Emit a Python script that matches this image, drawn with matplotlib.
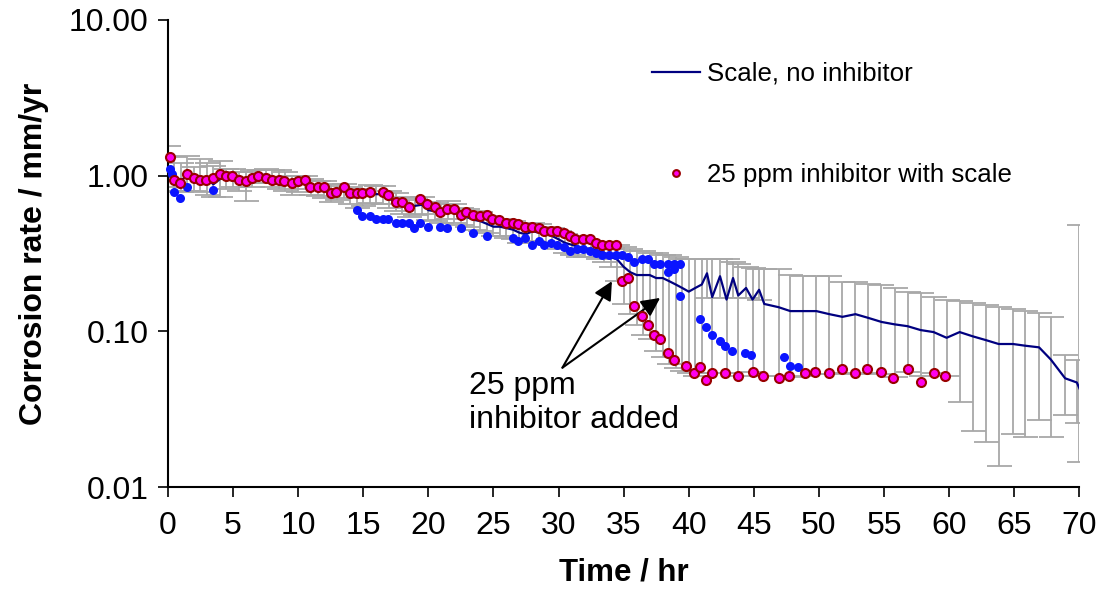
import numpy as np
import matplotlib
matplotlib.use("Agg")
import matplotlib.pyplot as plt
from matplotlib.ticker import FixedLocator, NullLocator

plt.rcParams['font.family'] = ['Liberation Sans', 'DejaVu Sans']

# scale, no inhibitor (line + error bars: lower / upper ends of each bar)
t_line = [0, 0.5, 1.0, 1.5, 2.0, 2.5, 3.0, 3.5, 4.0, 4.5, 5.0, 5.5, 6.0, 6.5, 7.0, 7.5, 8.0, 8.5, 9.0, 9.5,
          10.0, 10.5, 11.0, 11.5, 12.0, 12.5, 13.0, 13.5, 14.0, 14.5,
          15.0, 15.5, 16.0, 16.5, 17.0, 17.5, 18.0, 18.5, 19.0, 19.5, 20.0, 20.5, 21.0, 21.5, 22.0, 22.5,
          23.0, 23.5, 24.0, 24.5, 25.0, 25.5, 26.0, 26.5, 27.0, 27.5, 28.0, 28.5, 29.0, 29.5, 30.0, 30.5,
          31.0, 31.5, 32.0, 32.5, 33.0, 33.5, 34.0,
          34.5, 35.0, 35.5, 36.0, 36.5, 37.0, 37.5, 38.0, 38.5, 39.0, 39.5, 40.0, 40.5, 41.0,
          41.4, 41.8, 42.4, 42.9, 43.4, 43.8, 44.4, 44.9, 45.4, 45.8,
          46.9, 47.8, 48.8, 49.8, 50.8, 51.8, 52.8, 53.8, 54.8, 55.8, 56.8, 57.8, 58.8, 59.8, 60.8,
          61.8, 62.8, 63.8, 64.9, 65.8, 66.9, 67.8, 68.9, 69.8, 70.0]
v_line = [1.15, 1.0, 0.93, 1.0, 0.97, 0.95, 0.95, 0.88, 0.95, 0.97, 0.97, 0.95, 0.92, 0.95, 0.99, 1.02, 0.95, 0.93, 0.90, 0.88,
          0.90, 0.93, 0.85, 0.84, 0.83, 0.78, 0.78, 0.80, 0.76, 0.73,
          0.73, 0.77, 0.76, 0.76, 0.71, 0.68, 0.65, 0.62, 0.64, 0.65, 0.60, 0.59, 0.58, 0.61, 0.58, 0.55,
          0.54, 0.52, 0.51, 0.49, 0.47, 0.47, 0.46, 0.45, 0.43, 0.42, 0.44, 0.43, 0.42, 0.41, 0.39, 0.37,
          0.36, 0.35, 0.34, 0.34, 0.33, 0.32, 0.30,
          0.29, 0.26, 0.24, 0.23, 0.23, 0.23, 0.22, 0.22, 0.21, 0.20, 0.19, 0.18, 0.19, 0.20,
          0.236, 0.166, 0.226, 0.16, 0.22, 0.17, 0.19, 0.16, 0.185, 0.15,
          0.143, 0.135, 0.135, 0.135, 0.129, 0.124, 0.129, 0.122, 0.115, 0.111, 0.108, 0.102, 0.099, 0.091, 0.099,
          0.093, 0.088, 0.083, 0.083, 0.081, 0.079, 0.066, 0.050, 0.047, 0.043]
hi_line = [1.55, 1.32, 1.2, 1.34, 1.14, 1.27, 1.2, 1.15, 1.25, 1.1, 1.1, 1.05, 1.05, 1.08, 1.09, 1.1, 1.09, 1.08, 1.05, 1.0,
           1.0, 1.0, 0.95, 0.92, 0.92, 0.88, 0.86, 0.88, 0.84, 0.8,
           0.82, 0.87, 0.86, 0.86, 0.80, 0.77, 0.73, 0.70, 0.72, 0.73, 0.68, 0.67, 0.66, 0.69, 0.66, 0.62,
           0.61, 0.59, 0.58, 0.55, 0.53, 0.53, 0.52, 0.51, 0.49, 0.47, 0.50, 0.49, 0.47, 0.46, 0.44, 0.42,
           0.41, 0.40, 0.38, 0.38, 0.37, 0.36, 0.34,
           0.36, 0.35, 0.34, 0.33, 0.33, 0.32, 0.32, 0.31, 0.31, 0.30, 0.29, 0.29, 0.29, 0.29,
           0.29, 0.29, 0.29, 0.29, 0.28, 0.27, 0.26, 0.255, 0.25, 0.25,
           0.25, 0.23, 0.226, 0.226, 0.226, 0.207, 0.207, 0.20, 0.198, 0.19, 0.18, 0.176, 0.166, 0.16, 0.157,
           0.152, 0.148, 0.143, 0.14, 0.135, 0.131, 0.124, 0.071, 0.066, 0.485]
lo_line = [0.85, 0.8, 0.78, 0.8, 0.8, 0.78, 0.75, 0.73, 0.73, 0.82, 0.85, 0.8, 0.69, 0.85, 0.9, 0.9, 0.85, 0.82, 0.8, 0.75,
           0.78, 0.82, 0.75, 0.74, 0.72, 0.68, 0.7, 0.72, 0.66, 0.62,
           0.64, 0.67, 0.66, 0.66, 0.62, 0.59, 0.57, 0.54, 0.56, 0.57, 0.52, 0.51, 0.50, 0.53, 0.50, 0.48,
           0.47, 0.45, 0.44, 0.43, 0.41, 0.41, 0.40, 0.39, 0.37, 0.37, 0.38, 0.37, 0.37, 0.36, 0.34, 0.32,
           0.31, 0.30, 0.30, 0.30, 0.29, 0.28, 0.26,
           0.21, 0.15, 0.13, 0.11, 0.095, 0.09, 0.075, 0.068, 0.062, 0.058, 0.056, 0.054, 0.052, 0.054,
           0.165, 0.054, 0.165, 0.054, 0.165, 0.052, 0.165, 0.055, 0.16, 0.052,
           0.052, 0.051, 0.052, 0.053, 0.053, 0.054, 0.053, 0.054, 0.053, 0.051, 0.055, 0.052, 0.054, 0.052, 0.035,
           0.023, 0.0195, 0.0137, 0.022, 0.021, 0.027, 0.021, 0.029, 0.026, 0.0146]

# 25 ppm inhibitor with scale
t_pink = [0.15, 0.46, 0.92, 1.5, 2.0, 2.5, 2.9, 3.5, 4.0, 4.5, 4.9, 5.5, 6.0, 6.5, 6.9, 7.5, 8.0, 8.5, 8.9, 9.5,
          10.0, 10.5, 10.9, 11.5, 12.0, 12.5, 12.9, 13.5, 14.0, 14.5, 14.9, 15.5, 16.5, 16.9, 17.5, 18.0, 18.5,
          19.4, 19.9, 20.5, 20.9, 21.4, 22.0, 22.5, 22.9, 23.4, 24.0, 24.5, 24.9, 25.4, 26.0, 26.5, 26.9, 27.4,
          28.0, 28.5, 28.9, 29.4, 29.9, 30.4, 30.9, 31.3, 31.9, 32.4, 32.9, 33.3, 33.9, 34.4,
          34.9, 35.3, 35.8, 36.4, 36.9, 37.3, 37.8, 38.4, 38.9, 39.8, 40.4, 40.9, 41.3, 41.8,
          42.8, 43.8, 44.9, 45.7, 46.9, 47.7, 48.9, 49.7, 50.8, 51.8, 52.8, 53.7, 54.8, 55.7, 56.8, 57.8, 58.8, 59.7]
v_pink = [1.32, 0.94, 0.90, 1.03, 0.97, 0.94, 0.94, 0.97, 1.03, 1.0, 1.0, 0.94, 0.92, 0.97, 1.0, 0.97, 0.94, 0.94, 0.92, 0.89,
          0.92, 0.94, 0.84, 0.84, 0.84, 0.77, 0.79, 0.84, 0.77, 0.77, 0.77, 0.79, 0.79, 0.75, 0.68, 0.68, 0.63,
          0.71, 0.66, 0.63, 0.58, 0.61, 0.61, 0.56, 0.58, 0.56, 0.55, 0.56, 0.53, 0.52, 0.50, 0.50, 0.49, 0.47,
          0.47, 0.46, 0.44, 0.44, 0.44, 0.43, 0.41, 0.39, 0.39, 0.39, 0.37, 0.36, 0.36, 0.36,
          0.21, 0.22, 0.146, 0.126, 0.110, 0.095, 0.090, 0.073, 0.066, 0.060, 0.054, 0.059, 0.049, 0.054,
          0.054, 0.052, 0.055, 0.052, 0.050, 0.052, 0.054, 0.055, 0.054, 0.057, 0.054, 0.057, 0.055, 0.050,
          0.057, 0.047, 0.054, 0.052]

# blue points (not in legend)
t_blue = [0.15, 0.3, 0.46, 0.9, 1.5, 3.5, 14.5, 14.9, 15.5, 16.0, 16.5, 16.9, 17.5, 18.0, 18.5, 18.9, 19.4,
          20.0, 20.9, 21.4, 22.5, 23.4, 24.5, 26.5, 26.9, 27.4, 28.0, 28.5, 28.9, 29.4, 29.9, 30.4, 30.9,
          31.4, 31.9, 32.4, 32.9, 33.3, 33.9, 34.4, 34.9, 35.3, 35.8, 36.4, 36.9, 37.3, 37.8, 38.4, 38.4,
          38.9, 38.9, 39.3, 39.3, 40.9, 41.3, 41.8, 42.4, 42.8, 43.3, 44.3, 44.8, 47.3, 47.8, 48.4]
v_blue = [1.11, 1.03, 0.79, 0.72, 0.84, 0.81, 0.60, 0.55, 0.55, 0.53, 0.53, 0.53, 0.50, 0.50, 0.50, 0.46, 0.50,
          0.47, 0.47, 0.46, 0.46, 0.43, 0.41, 0.40, 0.38, 0.40, 0.36, 0.38, 0.36, 0.37, 0.36, 0.35, 0.33,
          0.34, 0.34, 0.33, 0.32, 0.31, 0.31, 0.31, 0.31, 0.30, 0.28, 0.29, 0.29, 0.27, 0.27, 0.24, 0.27,
          0.25, 0.27, 0.27, 0.168, 0.12, 0.107, 0.095, 0.087, 0.080, 0.075, 0.073, 0.071, 0.069, 0.060, 0.059]

y_ticks = [0.01, 0.1, 1, 10]
x_ticks = list(range(0, 75, 5))

fig = plt.figure(figsize=(10.97, 6), dpi=100)
ax = fig.add_axes([0.153, 0.188, 0.831, 0.779])

v = np.array(v_line)
yerr = [v - np.array(lo_line), np.array(hi_line) - v]
ax.errorbar(t_line, v_line, yerr=yerr, fmt='none', ecolor='#a8a8a8', elinewidth=1.3,
            capsize=9, capthick=1.3, zorder=1)
ax.plot(t_line, v_line, color='#000080', lw=1.6, zorder=2, label='Scale, no inhibitor')
ax.plot(t_blue, v_blue, 'o', color='#0a14ff', ms=6.5, mec='none', zorder=3, clip_on=False)
ax.plot(t_pink, v_pink, 'o', color='#ff00ee', ms=6.5, mec='#990000', mew=1.5, zorder=4,
        clip_on=False, label='25 ppm inhibitor with scale')

ax.set_yscale('log')
ax.set_ylim(0.01, 10)
ax.set_xlim(0, 70)
ax.yaxis.set_major_locator(FixedLocator(y_ticks))
ax.yaxis.set_minor_locator(NullLocator())
ax.set_yticklabels(['%.2f' % y for y in y_ticks])
ax.set_xticks(x_ticks)
ax.tick_params(labelsize=23, length=7, width=1.2, direction='out')
ax.tick_params(axis='x', pad=10)
ax.tick_params(axis='y', pad=7)

for s in ['top', 'right']:
    ax.spines[s].set_visible(False)
for s in ['left', 'bottom']:
    ax.spines[s].set_linewidth(1.5)

ax.set_xlabel('Time / hr', fontsize=22.5, fontweight='bold', labelpad=12)
ax.set_ylabel('Corrosion rate / mm/yr', fontsize=23, fontweight='bold', labelpad=14)

ax.legend(loc='upper left', bbox_to_anchor=(0.531, 0.91), frameon=False, fontsize=18.6,
          handlelength=1.85, handletextpad=0.3, labelspacing=3.0, borderpad=0, borderaxespad=0,
          markerscale=0.75)

# annotation
ax.text(23.1, 0.056, '25 ppm\ninhibitor added', fontsize=23, va='top', ha='left')
for hx, hy in [(34.1, 0.21), (37.8, 0.164)]:
    ax.annotate('', xy=(hx, hy), xytext=(30.3, 0.0585),
                arrowprops=dict(arrowstyle='-|>', color='black', lw=1.5, mutation_scale=28,
                                shrinkA=0, shrinkB=0))

fig.savefig('out.png', dpi=100)
